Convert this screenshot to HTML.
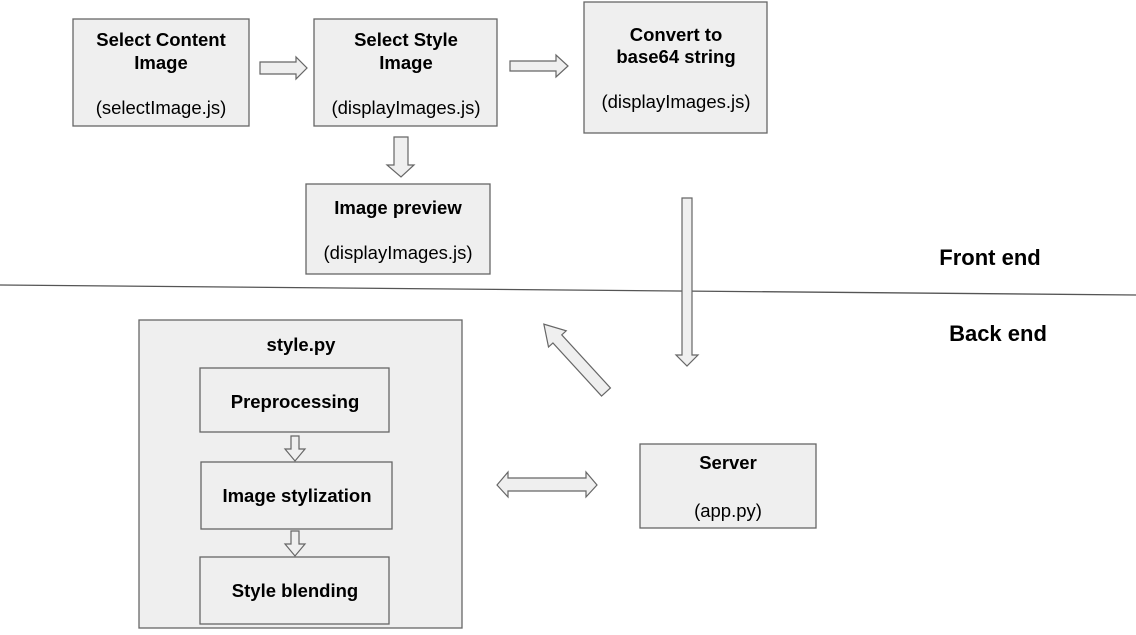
<!DOCTYPE html>
<html><head><meta charset="utf-8"><style>
html,body{margin:0;padding:0;background:#fff;}
svg{display:block;}
text{font-family:"Liberation Sans",Arial,sans-serif;fill:#000;}
.b{font-weight:bold;font-size:18.5px;}
.r{font-size:18.5px;}
.box{fill:#efefef;stroke:#666;stroke-width:1.3;}
.ar{fill:#efefef;stroke:#666;stroke-width:1.2;}
</style></head><body>
<svg width="1136" height="635" viewBox="0 0 1136 635" xmlns="http://www.w3.org/2000/svg">
<line x1="0" y1="285" x2="1136" y2="295" stroke="#555" stroke-width="1.3"/>
<text x="990" y="265" text-anchor="middle" style="font-weight:bold;font-size:22px">Front end</text>
<text x="998" y="341" text-anchor="middle" style="font-weight:bold;font-size:22px">Back end</text>

<rect class="box" x="73" y="19" width="176" height="107"/>
<text class="b" x="161" y="46" text-anchor="middle">Select Content</text>
<text class="b" x="161" y="69" text-anchor="middle">Image</text>
<text class="r" x="161" y="114" text-anchor="middle">(selectImage.js)</text>

<rect class="box" x="314" y="19" width="183" height="107"/>
<text class="b" x="406" y="46" text-anchor="middle">Select Style</text>
<text class="b" x="406" y="69" text-anchor="middle">Image</text>
<text class="r" x="406" y="114" text-anchor="middle">(displayImages.js)</text>

<rect class="box" x="584" y="2" width="183" height="131"/>
<text class="b" x="676" y="41" text-anchor="middle">Convert to</text>
<text class="b" x="676" y="63" text-anchor="middle">base64 string</text>
<text class="r" x="676" y="108" text-anchor="middle">(displayImages.js)</text>

<rect class="box" x="306" y="184" width="184" height="90"/>
<text class="b" x="398" y="214" text-anchor="middle">Image preview</text>
<text class="r" x="398" y="259" text-anchor="middle">(displayImages.js)</text>

<rect class="box" x="139" y="320" width="323" height="308"/>
<text class="b" x="301" y="351" text-anchor="middle">style.py</text>
<rect class="box" x="200" y="368" width="189" height="64"/>
<text class="b" x="295" y="408" text-anchor="middle">Preprocessing</text>
<rect class="box" x="201" y="462" width="191" height="67"/>
<text class="b" x="297" y="502" text-anchor="middle">Image stylization</text>
<rect class="box" x="200" y="557" width="189" height="67"/>
<text class="b" x="295" y="597" text-anchor="middle">Style blending</text>

<rect class="box" x="640" y="444" width="176" height="84"/>
<text class="b" x="728" y="469" text-anchor="middle">Server</text>
<text class="r" x="728" y="517" text-anchor="middle">(app.py)</text>

<!-- arrows -->
<polygon class="ar" points="260,62 296,62 296,57 307,68 296,79 296,74 260,74"/>
<polygon class="ar" points="510,61 556,61 556,55 568,66 556,77 556,71 510,71"/>
<polygon class="ar" points="394,137 408,137 408,165 414,165 401,177 387,165 394,165"/>
<polygon class="ar" points="682,198 692,198 692,355 698,355 687,366 676,355 682,355"/>
<g transform="translate(606,392) rotate(227.5)">
<polygon class="ar" points="0,-6 72,-6 72,-12 92,0 72,12 72,6 0,6"/>
</g>
<polygon class="ar" points="497,485 508,472 508,478 586,478 586,472 597,485 586,497 586,491 508,491 508,497"/>
<polygon class="ar" points="291,436 299,436 299,449 305,449 295,461 285,449 291,449"/>
<polygon class="ar" points="291,531 299,531 299,544 305,544 295,556 285,544 291,544"/>
</svg>
</body></html>
